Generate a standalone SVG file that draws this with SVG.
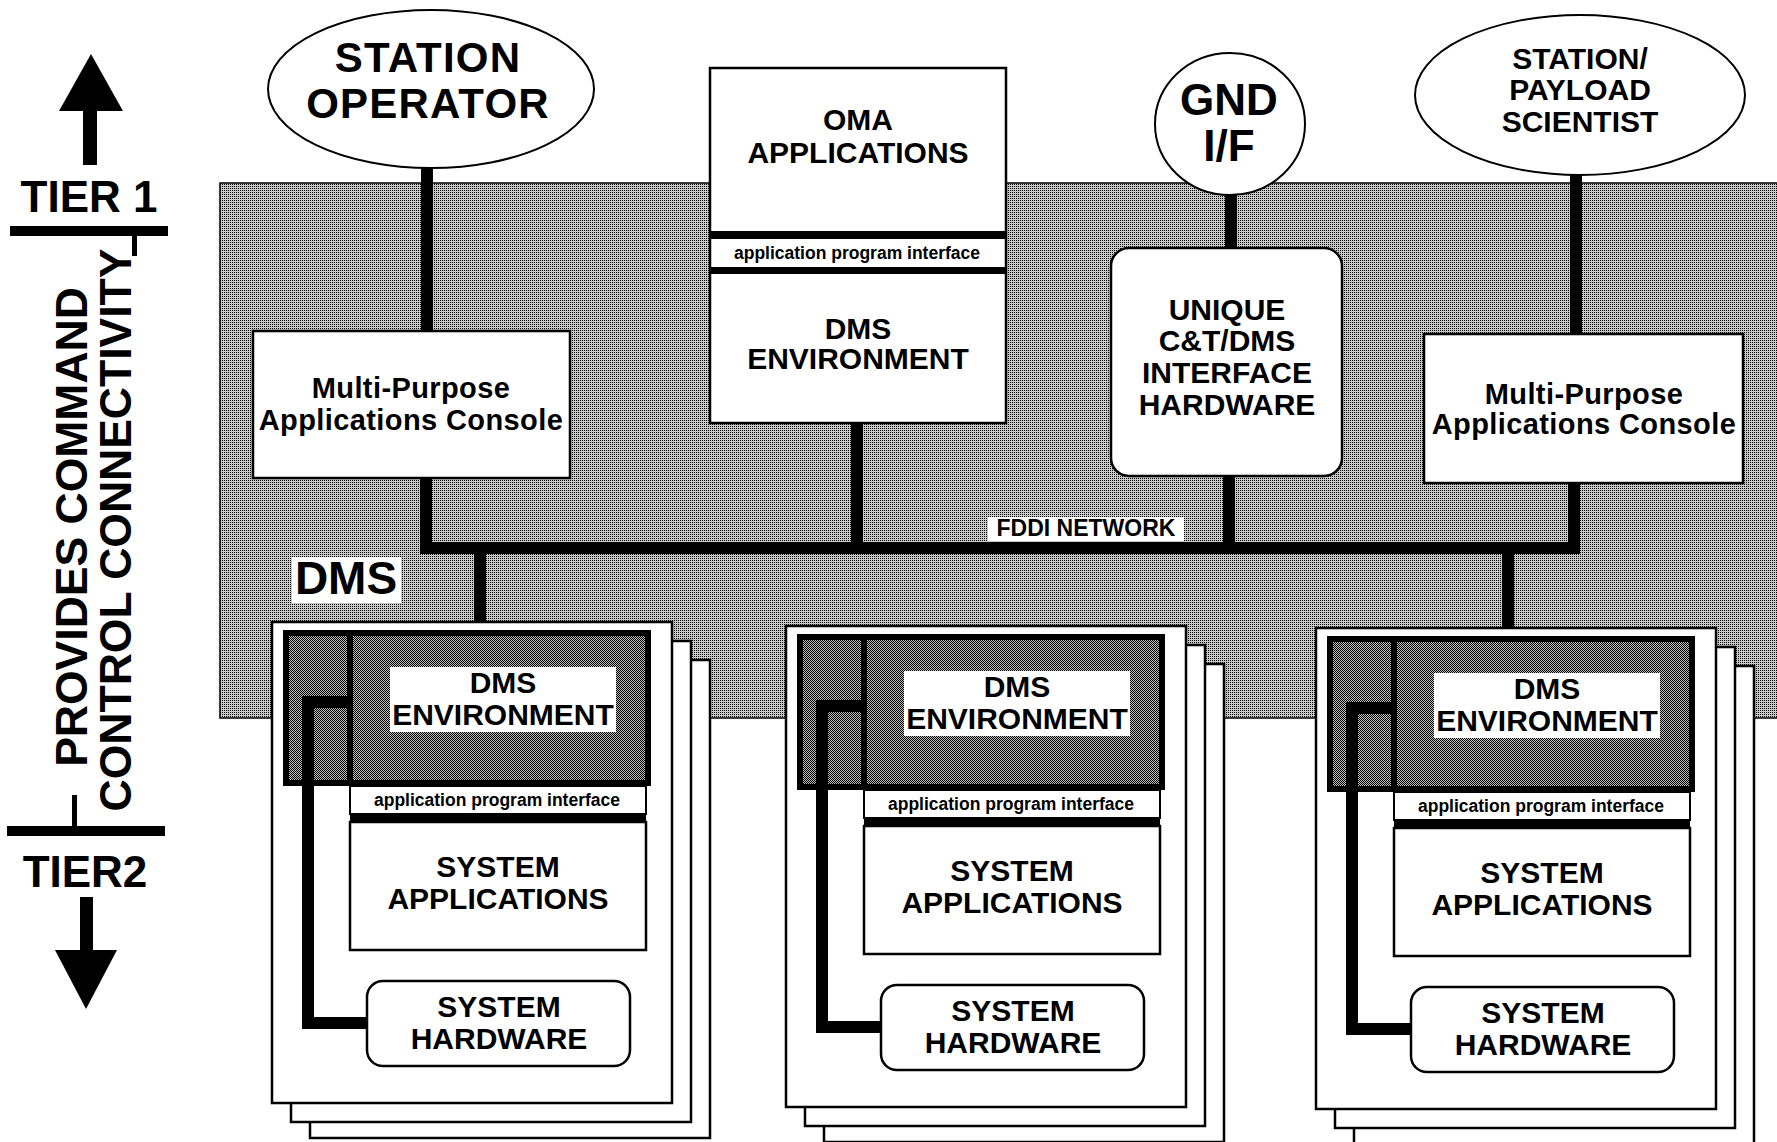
<svg xmlns="http://www.w3.org/2000/svg" width="1777" height="1142" viewBox="0 0 1777 1142">
<defs>
<pattern id="ht" width="2" height="2" patternUnits="userSpaceOnUse"><rect width="2" height="2" fill="#cacaca"/><rect width="1" height="1" fill="#000"/></pattern>
<pattern id="dk" width="2" height="2" patternUnits="userSpaceOnUse"><rect width="2" height="2" fill="#bdbdbd"/><rect width="1" height="1" fill="#000"/><rect x="1" y="1" width="1" height="1" fill="#000"/></pattern>
<style>
.t{font-family:"Liberation Sans",Arial,Helvetica,sans-serif;font-weight:bold;fill:#000;text-anchor:middle}
.f44{font-size:44px}.f42{font-size:42px;letter-spacing:1.2px}.f30{font-size:30px}.f29{font-size:29px;letter-spacing:0.4px}.f23{font-size:23px}.f17{font-size:17.5px}
.box{fill:#fff;stroke:#000;stroke-width:2.5}
.wire{fill:none;stroke:#000;stroke-width:12;stroke-linejoin:miter;stroke-linecap:butt}
.ink{fill:#000}
</style>
</defs>
<rect width="1777" height="1142" fill="#fff"/>

<g id="dms-region">
<rect x="220" y="183" width="1570" height="535" fill="url(#ht)" stroke="#000" stroke-width="1.5"/>
</g>

<g id="tier-legend">
<polygon class="ink" points="91,54 123,111 59,111"/>
<rect class="ink" x="83" y="110" width="14" height="55"/>
<text class="t f44" x="89" y="212">TIER 1</text>
<rect class="ink" x="10" y="226" width="158" height="10"/>
<rect class="ink" x="132" y="226" width="5" height="30"/>
<text class="t" style="font-size:44.5px" transform="translate(87,527) rotate(-90)">PROVIDES COMMAND</text>
<text class="t" style="font-size:44.5px" transform="translate(131,530) rotate(-90)">CONTROL CONNECTIVITY</text>
<rect class="ink" x="72" y="795" width="5" height="32"/>
<rect class="ink" x="7" y="826" width="158" height="10"/>
<text class="t f44" x="85" y="887">TIER2</text>
<rect class="ink" x="80" y="897" width="13" height="54"/>
<polygon class="ink" points="55,950 117,950 86,1009"/>
</g>

<g id="station-operator">
<ellipse cx="431" cy="89" rx="163" ry="79" fill="#fff" stroke="#000" stroke-width="2"/>
<text class="t f42" x="428" y="72">STATION</text>
<text class="t f42" x="428" y="118">OPERATOR</text>
</g>

<g id="mpac-left">
<rect class="box" x="253" y="331" width="317" height="147"/>
<text class="t f29" x="411" y="398">Multi-Purpose</text>
<text class="t f29" x="411" y="430">Applications Console</text>
</g>

<g id="oma">
<rect class="box" x="710" y="68" width="296" height="355"/>
<text class="t f30" x="858" y="130">OMA</text>
<text class="t f30" x="858" y="163">APPLICATIONS</text>
<rect class="ink" x="710" y="231" width="296" height="8"/>
<text class="t f17" x="857" y="259">application program interface</text>
<rect class="ink" x="710" y="267" width="296" height="7"/>
<text class="t f30" x="858" y="339">DMS</text>
<text class="t f30" x="858" y="369">ENVIRONMENT</text>
</g>

<g id="gnd-if">
<ellipse cx="1230" cy="124" rx="75" ry="71" fill="#fff" stroke="#000" stroke-width="2"/>
<text class="t f44" x="1229" y="115">GND</text>
<text class="t f44" x="1229" y="161">I/F</text>
</g>

<g id="unique-hw">
<rect class="box" x="1111" y="248" width="231" height="228" rx="18"/>
<text class="t f30" x="1227" y="320">UNIQUE</text>
<text class="t f30" x="1227" y="351">C&amp;T/DMS</text>
<text class="t f30" x="1227" y="383">INTERFACE</text>
<text class="t f30" x="1227" y="415">HARDWARE</text>
</g>

<g id="scientist">
<ellipse cx="1580" cy="95" rx="165" ry="80" fill="#fff" stroke="#000" stroke-width="2"/>
<text class="t f30" x="1580" y="69">STATION/</text>
<text class="t f30" x="1580" y="100">PAYLOAD</text>
<text class="t f30" x="1580" y="132">SCIENTIST</text>
</g>

<g id="mpac-right">
<rect class="box" x="1424" y="334" width="319" height="149"/>
<text class="t f29" x="1584" y="404">Multi-Purpose</text>
<text class="t f29" x="1584" y="434">Applications Console</text>
</g>

<g id="fddi-label">
<rect x="988" y="517" width="196" height="24" fill="#fff"/>
<text class="t f23" x="1086" y="536">FDDI NETWORK</text>
</g>

<g id="dms-label">
<rect x="292" y="557" width="109" height="46" fill="#fff"/>
<text class="t" style="font-size:46px" x="346" y="594">DMS</text>
</g>

<g id="stack-1" transform="translate(272,622)">
<rect class="box" x="38" y="38" width="400" height="478"/>
<rect class="box" x="19" y="19" width="400" height="481"/>
<rect class="box" x="0" y="0" width="400" height="481"/>
<rect x="14" y="11" width="362" height="150" fill="url(#dk)" stroke="#000" stroke-width="6"/>
<rect class="ink" x="75" y="8" width="6" height="156"/>
<rect x="118" y="45" width="226" height="65" fill="#fff"/>
<text class="t f30" x="231" y="71">DMS</text>
<text class="t f30" x="231" y="103">ENVIRONMENT</text>
<rect x="78" y="164" width="296" height="28" fill="#fff" stroke="#000" stroke-width="2"/>
<text class="t f17" x="225" y="184">application program interface</text>
<rect class="ink" x="78" y="192" width="296" height="8"/>
<rect class="box" x="78" y="200" width="296" height="128"/>
<text class="t f30" x="226" y="255">SYSTEM</text>
<text class="t f30" x="226" y="287">APPLICATIONS</text>
<rect class="box" x="95" y="359" width="263" height="85" rx="16"/>
<text class="t f30" x="227" y="395">SYSTEM</text>
<text class="t f30" x="227" y="427">HARDWARE</text>
</g>

<g id="stack-2" transform="translate(786,626)">
<rect class="box" x="38" y="38" width="400" height="478"/>
<rect class="box" x="19" y="19" width="400" height="481"/>
<rect class="box" x="0" y="0" width="400" height="481"/>
<rect x="14" y="11" width="362" height="150" fill="url(#dk)" stroke="#000" stroke-width="6"/>
<rect class="ink" x="75" y="8" width="6" height="156"/>
<rect x="118" y="45" width="226" height="65" fill="#fff"/>
<text class="t f30" x="231" y="71">DMS</text>
<text class="t f30" x="231" y="103">ENVIRONMENT</text>
<rect x="78" y="164" width="296" height="28" fill="#fff" stroke="#000" stroke-width="2"/>
<text class="t f17" x="225" y="184">application program interface</text>
<rect class="ink" x="78" y="192" width="296" height="8"/>
<rect class="box" x="78" y="200" width="296" height="128"/>
<text class="t f30" x="226" y="255">SYSTEM</text>
<text class="t f30" x="226" y="287">APPLICATIONS</text>
<rect class="box" x="95" y="359" width="263" height="85" rx="16"/>
<text class="t f30" x="227" y="395">SYSTEM</text>
<text class="t f30" x="227" y="427">HARDWARE</text>
</g>

<g id="stack-3" transform="translate(1316,628)">
<rect class="box" x="38" y="38" width="400" height="478"/>
<rect class="box" x="19" y="19" width="400" height="481"/>
<rect class="box" x="0" y="0" width="400" height="481"/>
<rect x="14" y="11" width="362" height="150" fill="url(#dk)" stroke="#000" stroke-width="6"/>
<rect class="ink" x="75" y="8" width="6" height="156"/>
<rect x="118" y="45" width="226" height="65" fill="#fff"/>
<text class="t f30" x="231" y="71">DMS</text>
<text class="t f30" x="231" y="103">ENVIRONMENT</text>
<rect x="78" y="164" width="296" height="28" fill="#fff" stroke="#000" stroke-width="2"/>
<text class="t f17" x="225" y="184">application program interface</text>
<rect class="ink" x="78" y="192" width="296" height="8"/>
<rect class="box" x="78" y="200" width="296" height="128"/>
<text class="t f30" x="226" y="255">SYSTEM</text>
<text class="t f30" x="226" y="287">APPLICATIONS</text>
<rect class="box" x="95" y="359" width="263" height="85" rx="16"/>
<text class="t f30" x="227" y="395">SYSTEM</text>
<text class="t f30" x="227" y="427">HARDWARE</text>
</g>

<g id="connectors">
<path class="wire" d="M427 168 V331"/>
<path class="wire" d="M426 478 V548 H1574 V483"/>
<path class="wire" d="M857 423 V548"/>
<path class="wire" d="M1231 195 V248"/>
<path class="wire" d="M1229 476 V548"/>
<path class="wire" d="M1576 175 V334"/>
<path class="wire" d="M480 548 V622"/>
<path class="wire" d="M1508 548 V628"/>
<path class="wire" d="M353 702 H308 V1023 H367"/>
<path class="wire" d="M867 706 H822 V1027 H881"/>
<path class="wire" d="M1397 708 H1352 V1029 H1411"/>
</g>
</svg>
